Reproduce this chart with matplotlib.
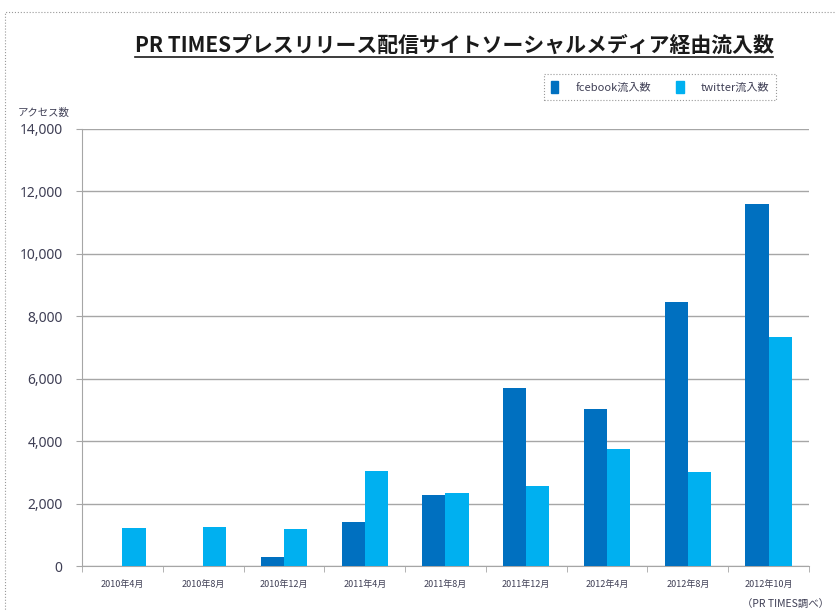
"""
plot.py

Grouped bar chart: PR TIMES social-media referral counts (facebook vs twitter)
by month, 2010-2012. Saves to out.png.
"""
import matplotlib
matplotlib.use("Agg")
import matplotlib.pyplot as plt
from matplotlib.lines import Line2D
from matplotlib.patches import Patch, Rectangle
from matplotlib.ticker import FuncFormatter, MultipleLocator
import numpy as np

JP = ["Noto Sans CJK JP", "DejaVu Sans"]
NUM = ["Noto Sans", "DejaVu Sans"]

FB = "#0070C0"
TW = "#00B0F0"
GRID = "#A6A6A6"
TEXT = "#3F3F55"

months = ["2010年4月", "2010年8月", "2010年12月", "2011年4月", "2011年8月",
          "2011年12月", "2012年4月", "2012年8月", "2012年10月"]
facebook = [0, 0, 290, 1400, 2270, 5695, 5020, 8455, 11605]
twitter = [1220, 1250, 1190, 3050, 2335, 2550, 3735, 3020, 7330]

TITLE = "PR TIMESプレスリリース配信サイトソーシャルメディア経由流入数"


def main():
    W, H = 837, 610
    fig = plt.figure(figsize=(W / 100, H / 100), dpi=100)
    fig.patch.set_facecolor("white")
    ax = fig.add_axes([82 / W, 1 - 566 / H, (809 - 82) / W, (566 - 129) / H])

    x = np.arange(len(months))
    bw = 0.287
    ax.bar(x - bw / 2, facebook, width=bw, color=FB, zorder=3, label="fcebook流入数")
    ax.bar(x + bw / 2, twitter, width=bw, color=TW, zorder=3, label="twitter流入数")

    ax.set_xlim(-0.5, len(months) - 0.5)
    ax.set_ylim(0, 14000)
    ax.yaxis.set_major_locator(MultipleLocator(2000))
    ax.yaxis.set_major_formatter(FuncFormatter(lambda v, _: f"{v:,.0f}"))
    ax.grid(axis="y", color=GRID, linewidth=1, zorder=0)

    ax.set_xticks(x)
    ax.set_xticklabels(months, fontfamily=JP, fontsize=6.5, color=TEXT)
    ax.set_xticks(np.arange(-0.5, len(months)), minor=True)
    ax.tick_params(axis="x", which="major", length=0, pad=10)
    ax.tick_params(axis="x", which="minor", length=4, color=GRID, direction="out")
    ax.tick_params(axis="y", length=4, color=GRID, pad=10, labelsize=10, labelcolor=TEXT)
    for lab in ax.get_yticklabels():
        lab.set_fontfamily(NUM)

    for s in ["top", "right"]:
        ax.spines[s].set_visible(False)
    for s in ["left", "bottom"]:
        ax.spines[s].set_color(GRID)

    # legend box with dotted frame
    handles = [Patch(color=FB, label="fcebook流入数"), Patch(color=TW, label="twitter流入数")]
    leg = fig.legend(handles=handles, loc="center", ncol=2,
                     bbox_to_anchor=(660 / W, 1 - 87 / H),
                     prop={"family": JP, "size": 8},
                     handlelength=0.7, handleheight=1.3, handletextpad=1.5,
                     columnspacing=2.3, fancybox=False, framealpha=1,
                     borderpad=0.6, borderaxespad=0)
    leg.get_frame().set_edgecolor("#999999")
    leg.get_frame().set_linestyle(":")
    leg.get_frame().set_linewidth(0.8)
    for t in leg.get_texts():
        t.set_color(TEXT)

    title = fig.text(454 / W, 1 - 45 / H, TITLE, ha="center", va="center",
                     fontsize=15, fontweight="bold", fontfamily=JP, color="#1a1a1a")
    fig.canvas.draw()
    bb = title.get_window_extent()
    fig.add_artist(Line2D([bb.x0 / W, bb.x1 / W], [(bb.y0 - 1) / H] * 2,
                          color="#1a1a1a", linewidth=1.2))

    fig.text(18 / W, 1 - 113 / H, "アクセス数", ha="left", va="center",
             fontsize=7.5, fontfamily=JP, color=TEXT)
    fig.text(742 / W, 1 - 604 / H, "（PR TIMES調べ）", ha="left", va="center",
             fontsize=7.5, fontfamily=JP, color=TEXT)

    # outer dotted chart border (cut off at right and bottom)
    fig.add_artist(Rectangle((5 / W, -0.1), 1.2, 1 - 12 / H + 0.1, fill=False,
                             edgecolor="#999999", linestyle=":", linewidth=0.8,
                             transform=fig.transFigure))

    fig.savefig("out.png", dpi=100, facecolor="white")
    plt.close(fig)


if __name__ == "__main__":
    main()
